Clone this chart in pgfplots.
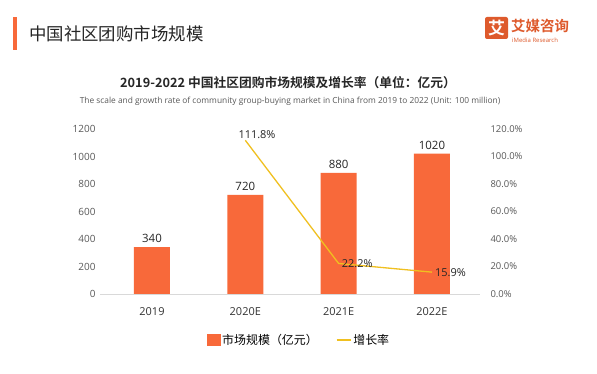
\documentclass[border=0pt]{standalone}
\usepackage{fontspec}
\setmainfont{Noto Sans CJK SC}[BoldFont={Noto Sans CJK SC Bold}]
\newfontfamily\latinfont{Open Sans}
\usepackage{pgfplots}
\pgfplotsset{compat=1.18}
\definecolor{barorange}{HTML}{F8693A}
\definecolor{lineyellow}{HTML}{F0C020}
\definecolor{tickgrey}{HTML}{595959}
\definecolor{logored}{HTML}{DE5A2C}
\begin{document}
\begin{tikzpicture}
\path[use as bounding box, fill=white] (0,0) rectangle (597bp,374bp);
% header
\fill[barorange] (13bp,324bp) rectangle (16.5bp,357bp);
\node[anchor=west, font=\fontsize{17.5}{17.5}\selectfont, text=black!85, inner sep=0] at (29bp,340bp) {中国社区团购市场规模};
% logo
\fill[logored, rounded corners=2bp] (485bp,335bp) rectangle (508bp,357bp);
\node[text=white, font=\fontsize{17}{17}\selectfont\bfseries, inner sep=0] at (496.5bp,346bp) {艾};
\node[anchor=west, text=logored, font=\fontsize{14.5}{14.5}\selectfont\bfseries, inner sep=0] at (511bp,348bp) {艾媒咨询};
\node[anchor=west, text=logored, font=\latinfont\fontsize{6}{6}\selectfont, inner sep=0] at (512bp,334bp) {iMedia Research};
% chart titles
\node[font=\fontsize{12.8}{12.8}\selectfont\bfseries, text=black!85, inner sep=0] at (288bp,291bp) {2019-2022 中国社区团购市场规模及增长率（单位：亿元）};
\node[font=\latinfont\fontsize{8.4}{8.4}\selectfont, text=black!65, inner sep=0] at (290bp,273bp) {The scale and growth rate of community group-buying market in China from 2019 to 2022 (Unit: 100 million)};
\begin{axis}[
  at={(100bp,80bp)}, anchor=south west,
  scale only axis, width=380bp, height=165bp,
  xmin=-0.557, xmax=3.515, ymin=0, ymax=1200,
  xtick={0,1,2,3}, xticklabels={2019,2020E,2021E,2022E},
  ytick={0,200,400,600,800,1000,1200},
  /pgf/number format/1000 sep={},
  axis y line*=left, axis x line*=bottom,
  axis line style={draw=none},
  major tick length=0pt,
  tick label style={text=tickgrey, font=\latinfont\fontsize{10}{10}\selectfont},
  /pgf/number format/assume math mode=true,
  yticklabel style={xshift=-1bp},
  xticklabel style={yshift=-10bp, font=\latinfont\fontsize{11}{11}\selectfont, text=black!80},
  clip=false,
]
\draw[black!15, line width=0.6bp] (axis cs:-0.557,0) -- (axis cs:3.515,0);
\addplot[ybar, bar width=36bp, fill=barorange, draw=none,
  nodes near coords, every node near coord/.append style={font=\latinfont\fontsize{11.5}{11.5}\selectfont, text=black!85, yshift=1bp, /pgf/number format/1000 sep={}}]
  coordinates {(0,340) (1,720) (2,880) (3,1020)};
\end{axis}
\begin{axis}[
  at={(100bp,80bp)}, anchor=south west,
  scale only axis, width=380bp, height=165bp,
  xmin=-0.557, xmax=3.515, ymin=0, ymax=120,
  axis y line*=right, axis x line=none,
  axis line style={draw=none},
  major tick length=0pt,
  ytick={0,20,40,60,80,100,120},
  yticklabel={\pgfmathprintnumber[fixed, fixed zerofill, precision=1]{\tick}\%},
  tick label style={text=tickgrey, font=\latinfont\fontsize{9.5}{9.5}\selectfont},
  /pgf/number format/assume math mode=true,
  yticklabel style={xshift=7bp},
  clip=false,
  legend style={at={(0.524,-0.279)}, anchor=center, draw=none, fill=none,
    legend columns=2, font=\fontsize{12}{12}\selectfont,
    /tikz/every even column/.append style={column sep=16bp},
    inner sep=0pt},
  legend image code/.code={\draw[#1] (0cm,0cm) -- (0.5cm,0cm);},
  legend cell align=left,
]
\addlegendimage{legend image code/.code={\fill[barorange] (0.05cm,-0.18cm) rectangle (0.5cm,0.19cm);}}
\addlegendentry{市场规模（亿元）}
\addplot[lineyellow, line width=1.3bp, mark=none]
  coordinates {(1,111.8) (2,22.2) (3,15.9)};
\addlegendentry{增长率}
\addplot[draw=none, mark=none, forget plot,
  nodes near coords={\pgfmathprintnumber[fixed, fixed zerofill, precision=1]{\pgfplotspointmeta}\%},
  point meta=explicit,
  every node near coord/.append style={font=\latinfont\fontsize{11}{11}\selectfont, text=black!85, anchor=south west, inner sep=1bp, xshift=-8bp, yshift=0bp}]
  coordinates {(1,111.8)[111.8]};
\addplot[draw=none, mark=none, forget plot,
  nodes near coords={\pgfmathprintnumber[fixed, fixed zerofill, precision=1]{\pgfplotspointmeta}\%},
  point meta=explicit,
  every node near coord/.append style={font=\latinfont\fontsize{11}{11}\selectfont, text=black!85, anchor=west, inner sep=1bp, xshift=2bp}]
  coordinates {(2,22.2)[22.2] (3,15.9)[15.9]};
\end{axis}
\end{tikzpicture}
\end{document}
